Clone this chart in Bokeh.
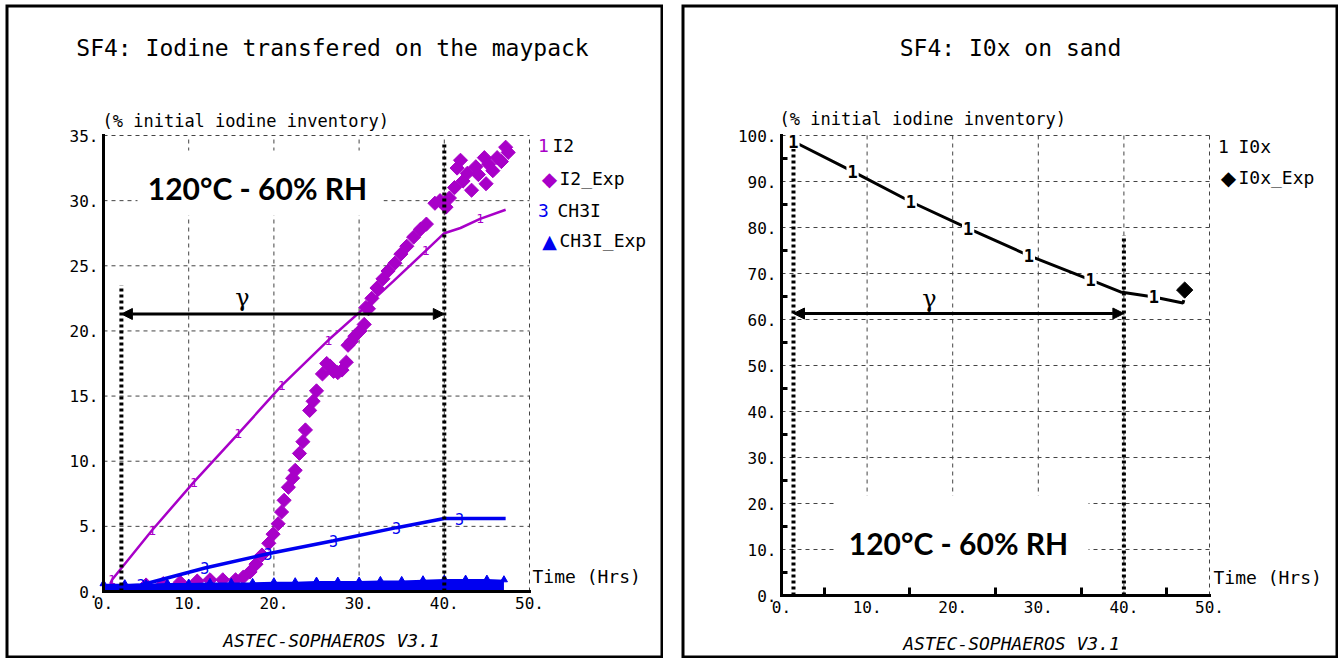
from bokeh.plotting import figure
from bokeh.layouts import row
from bokeh.models import Label, Arrow, NormalHead, FixedTicker, BoxAnnotation, Range1d
from bokeh.core.properties import value
from bokeh.embed import file_html
from bokeh.resources import INLINE
import math

# ---------------- data : left panel (Iodine transferred on the maypack) ----------------
i2_sim_x = [0.8, 1.0, 5.7, 10.6, 15.8, 20.9, 26.4, 30.0, 34.0, 37.9, 40.0, 41.9, 44.2, 47.2]
i2_sim_y = [0.6, 0.9, 4.7, 8.4, 12.1, 15.8, 19.3, 21.4, 23.8, 26.2, 27.5, 27.9, 28.6, 29.3]
i2_mark_x = [1.0, 5.7, 10.6, 15.8, 20.9, 26.4, 37.8, 44.2]
i2_mark_y = [0.9, 4.7, 8.4, 12.1, 15.8, 19.3, 26.2, 28.6]

i2_exp_x = [5, 7, 9, 11, 12.5, 14, 15.5, 16.4, 17.2, 17.9, 18.6, 19.4, 19.9, 20.5, 20.9, 21.2,
            21.7, 22.2, 22.5, 23.0, 23.4, 23.7, 24.2, 24.6, 25.0, 25.7, 26.2, 26.6, 27.0, 27.5,
            28.0, 28.5, 28.7, 29.1, 29.5, 30.1, 30.6, 30.8, 31.1, 31.5, 32.1, 32.8, 33.4, 34.2,
            34.9, 35.6, 36.4, 37.2, 37.9, 38.9, 39.5, 40.2, 40.6, 41.2, 41.5, 41.9, 42.2, 42.7,
            43.2, 43.7, 44.0, 44.7, 44.9, 45.2, 45.7, 46.2, 46.7, 47.2, 47.5]
i2_exp_y = [0.5, 0.6, 0.7, 0.8, 0.9, 0.9, 0.9, 1.1, 1.5, 2.1, 2.8, 3.7, 4.4, 5.2, 6.1, 7.0,
            8.0, 8.7, 9.3, 10.6, 11.5, 12.4, 13.9, 14.6, 15.4, 16.7, 17.5, 17.3, 16.9, 16.8,
            17.0, 17.6, 18.9, 19.2, 19.6, 20.0, 20.5, 21.8, 21.7, 22.5, 23.3, 24.0, 24.6, 25.2,
            25.9, 26.5, 27.2, 27.8, 28.2, 29.8, 30.0, 29.5, 30.2, 31.0, 32.5, 33.1, 31.5, 32.1,
            30.8, 32.6, 32.0, 33.3, 31.3, 32.8, 32.3, 33.3, 33.0, 34.1, 33.7]

ch3i_sim_x = [0.0, 4.4, 11.9, 19.3, 27.0, 34.4, 40.0, 41.8, 47.2]
ch3i_sim_y = [0.3, 0.5, 1.8, 2.9, 3.9, 4.9, 5.6, 5.6, 5.6]
ch3i_mark_x = [4.4, 11.9, 19.3, 27.0, 34.4, 41.8]
ch3i_mark_y = [0.5, 1.8, 2.9, 3.9, 4.9, 5.6]

ch3i_exp_x = [0, 2.5, 5, 7.5, 10, 12.5, 15, 17.5, 20, 22.5, 25, 27.5, 30, 32.5, 35, 37.5, 40, 42.5, 45, 47]
ch3i_exp_y = [0.6, 0.6, 0.6, 0.65, 0.65, 0.7, 0.7, 0.7, 0.75, 0.75, 0.8, 0.8, 0.8, 0.85, 0.85, 0.9, 0.95, 0.95, 0.95, 0.9]

left_xticks = [0, 10, 20, 30, 40, 50]
left_yticks = [0, 5, 10, 15, 20, 25, 30, 35]

gamma_left_x = [2.1, 40.0]
gamma_left_top = [23.5, 34.3]
gamma_left_arrow_y = 21.3

# ---------------- data : right panel (IOx on sand) ----------------
iox_sim_x = [1.4, 8.3, 15.1, 21.8, 28.9, 36.1, 39.6, 43.5, 46.9, 47.0]
iox_sim_y = [98.7, 92.2, 85.6, 79.8, 73.9, 68.6, 66.0, 64.9, 63.6, 64.2]
iox_mark_x = [1.4, 8.3, 15.1, 21.8, 28.9, 36.1, 43.5]
iox_mark_y = [98.7, 92.2, 85.6, 79.8, 73.9, 68.6, 64.9]
iox_exp_x = [47.1]
iox_exp_y = [66.4]

right_xticks = [0, 10, 20, 30, 40, 50]
right_xminor = [5, 15, 25, 35, 45]
right_yticks = [0, 10, 20, 30, 40, 50, 60, 70, 80, 90, 100]
right_yminor = [5, 15, 25, 35, 45, 55, 65, 75, 85, 95]

gamma_right_x = [1.4, 40.0]
gamma_right_top = [98.0, 78.3]
gamma_right_arrow_y = 61.3

MONO = "DejaVu Sans Mono"
PURPLE = "#A800C8"
BLUE = "#0000F0"


class Panel:
    """Figure whose frame fills the whole canvas; data ranges chosen so that the
    axes (fixed at 0) land where the reference plot area is."""

    def __init__(self, canvas, x0px, x1px, y0px, y1px, xr, yr, xt, yt, xminor, yminor):
        cx, cy, W, H = canvas
        self.cx, self.cy, self.W, self.H = canvas
        self.ppx = (x1px - x0px) / (xr[1] - xr[0])
        self.ppy = (y0px - y1px) / (yr[1] - yr[0])
        self.xs = xr[0] - (x0px - cx) / self.ppx
        self.xe = xr[1] + (cx + W - x1px) / self.ppx
        self.ys = yr[0] - (cy + H - y0px) / self.ppy
        self.ye = yr[1] + (y1px - cy) / self.ppy
        p = figure(width=W, height=H, x_range=Range1d(self.xs, self.xe), y_range=Range1d(self.ys, self.ye),
                   title=None, min_border=0, min_border_left=0, min_border_right=0,
                   min_border_top=0, min_border_bottom=0,
                   output_backend="svg", toolbar_location=None)
        p.outline_line_color = None
        p.background_fill_color = "white"
        p.border_fill_color = "white"
        p.xgrid.visible = False
        p.ygrid.visible = False
        # grid lines from the tick arrays
        p.segment(x0=xt[1:], y0=[yr[0]] * (len(xt) - 1), x1=xt[1:], y1=[yr[1]] * (len(xt) - 1),
                  line_color="#444444", line_dash="4 4", line_width=1, level="underlay")
        p.segment(x0=[xr[0]] * (len(yt) - 1), y0=yt[1:], x1=[xr[1]] * (len(yt) - 1), y1=yt[1:],
                  line_color="#444444", line_dash="4 4", line_width=1, level="underlay")
        p.xaxis.fixed_location = yr[0]
        p.yaxis.fixed_location = xr[0]
        p.xaxis.bounds = xr
        p.yaxis.bounds = yr
        p.xaxis.ticker = FixedTicker(ticks=xt, minor_ticks=xminor)
        p.yaxis.ticker = FixedTicker(ticks=yt, minor_ticks=yminor)
        p.xaxis.major_label_overrides = {t: f"{t}." for t in xt}
        p.yaxis.major_label_overrides = {t: f"{t}." for t in yt}
        for ax in (p.xaxis[0], p.yaxis[0]):
            ax.axis_line_width = 3
            ax.axis_line_color = "black"
            ax.axis_line_cap = "square"
            ax.major_tick_in = 0
            ax.major_tick_out = 0
            ax.major_label_text_font = MONO
            ax.major_label_text_font_size = "16px"
            ax.major_label_text_color = "black"
            ax.minor_tick_out = 0
            ax.minor_tick_line_width = 3
            ax.minor_tick_line_color = "black" if (xminor or yminor) else None
        p.xaxis.major_label_standoff = 5
        p.yaxis.major_label_standoff = 5
        # minor ticks point into the plot area
        p.xaxis.minor_tick_in = 8
        p.yaxis.minor_tick_in = 6
        # panel border
        p.add_layout(BoxAnnotation(left=self.xs, right=self.xe, bottom=self.ys, top=self.ye,
                                   fill_alpha=0, line_color="black", line_alpha=1, line_width=6))
        self.p = p

    def d(self, px, py):
        return (self.xs + (px - self.cx) / self.ppx, self.ys + (self.cy + self.H - py) / self.ppy)

    def text(self, px, py, text, size, color="black", align="left", font=MONO, style="normal"):
        x, y = self.d(px, py)
        self.p.add_layout(Label(x=x, y=y, text=text, text_font=font, text_font_size=size,
                                text_color=color, text_align=align, text_baseline="middle",
                                text_font_style=style))

    def gamma(self, gx, gtop, ay, gpx, box_px, cond_px):
        p = self.p
        l, t = self.d(box_px[0], box_px[2])
        r, b = self.d(box_px[1], box_px[3])
        p.add_layout(BoxAnnotation(left=l, right=r, bottom=b, top=t, fill_color="white",
                                   fill_alpha=1, line_color=None, level="underlay"))
        self.text(cond_px[0], cond_px[1], "120°C - 60% RH", "30px", align="center", font="Lato", style="bold")
        p.add_layout(Arrow(x_start=gx[0], y_start=ay, x_end=gx[1], y_end=ay, line_width=3, line_color="black",
                           start=NormalHead(size=11, fill_color="black", line_color="black"),
                           end=NormalHead(size=11, fill_color="black", line_color="black")))
        self.text(gpx[0], gpx[1], "γ", "24px", align="center", font="DejaVu Serif")


# ---------------- left figure ----------------
L = Panel((5, 4, 658, 654), 103, 529, 591, 135, (0, 50), (0, 35), left_xticks, left_yticks, [], [])
p1 = L.p
p1.margin = (4, 0, 0, 5)
L.gamma(gamma_left_x, gamma_left_top, gamma_left_arrow_y, (242, 297), (137, 383, 150, 215), (257, 187))

p1.line(i2_sim_x, i2_sim_y, line_color=PURPLE, line_width=2.5)
p1.text(i2_mark_x, i2_mark_y, text=["1"] * len(i2_mark_x), text_color=PURPLE,
        text_font=value(MONO), text_font_size="13px", text_align="center", text_baseline="middle")
p1.scatter(i2_exp_x, i2_exp_y, marker="square", angle=math.pi / 4, size=10,
           fill_color=PURPLE, line_color=PURPLE)
p1.line(ch3i_sim_x, ch3i_sim_y, line_color=BLUE, line_width=3.5)
p1.text(ch3i_mark_x, ch3i_mark_y, text=["3"] * len(ch3i_mark_x), text_color=BLUE,
        text_font=value(MONO), text_font_size="15px", text_align="center", text_baseline="middle")
p1.varea(x=ch3i_exp_x, y1=[0] * len(ch3i_exp_x), y2=ch3i_exp_y, fill_color=BLUE)
p1.scatter(ch3i_exp_x, ch3i_exp_y, marker="triangle", size=7, fill_color=BLUE, line_color=BLUE)
p1.segment(x0=gamma_left_x, y0=[0, 0], x1=gamma_left_x, y1=gamma_left_top,
           line_color="black", line_width=4, line_dash="3 3")

L.text(332, 47, "SF4: Iodine transfered on the maypack", "23px", align="center")
L.text(102, 120, "(% initial iodine inventory)", "17px")
L.text(543, 145, "1", "18px", color=PURPLE, align="center")
L.text(552, 145, "I2", "18px")
L.text(549, 178, "◆", "20px", color=PURPLE, align="center", font="DejaVu Sans")
L.text(559, 178, "I2_Exp", "18px")
L.text(543, 210, "3", "18px", color=BLUE, align="center")
L.text(557, 210, "CH3I", "18px")
L.text(549, 240, "▲", "19px", color=BLUE, align="center", font="DejaVu Sans")
L.text(559, 240, "CH3I_Exp", "18px")
L.text(532, 576, "Time (Hrs)", "18px")
L.text(331, 640, "ASTEC-SOPHAEROS V3.1", "18px", align="center", style="italic")

# ---------------- right figure ----------------
R = Panel((681, 4, 657, 654), 781, 1209, 595, 135, (0, 50), (0, 100), right_xticks, right_yticks,
          right_xminor, right_yminor)
p2 = R.p
p2.margin = (4, 0, 0, 18)
R.gamma(gamma_right_x, gamma_right_top, gamma_right_arrow_y, (929, 298), (835, 1088, 495, 594), (958, 542))

p2.segment(x0=gamma_right_x, y0=[0, 0], x1=gamma_right_x, y1=gamma_right_top,
           line_color="black", line_width=4, line_dash="3 3")
p2.line(iox_sim_x, iox_sim_y, line_color="black", line_width=3)
p2.text(iox_mark_x, iox_mark_y, text=["1"] * len(iox_mark_x), text_color="black",
        text_font=value(MONO), text_font_size="17px", text_font_style="bold",
        text_align="center", text_baseline="middle",
        background_fill_color="white", padding=1)
p2.scatter(iox_exp_x, iox_exp_y, marker="square", angle=math.pi / 4, size=11.5,
           fill_color="black", line_color="black")

R.text(1010, 47, "SF4: I0x on sand", "23px", align="center")
R.text(779, 118, "(% initial iodine inventory)", "17px")
R.text(1223, 146, "1", "18px", align="center")
R.text(1238, 146, "I0x", "18px")
R.text(1228, 177, "◆", "20px", align="center", font="DejaVu Sans")
R.text(1238, 177, "I0x_Exp", "18px")
R.text(1213, 577, "Time (Hrs)", "18px")
R.text(1011, 643, "ASTEC-SOPHAEROS V3.1", "18px", align="center", style="italic")

layout = row(p1, p2)
open("out.html", "w").write(file_html(layout, INLINE))
